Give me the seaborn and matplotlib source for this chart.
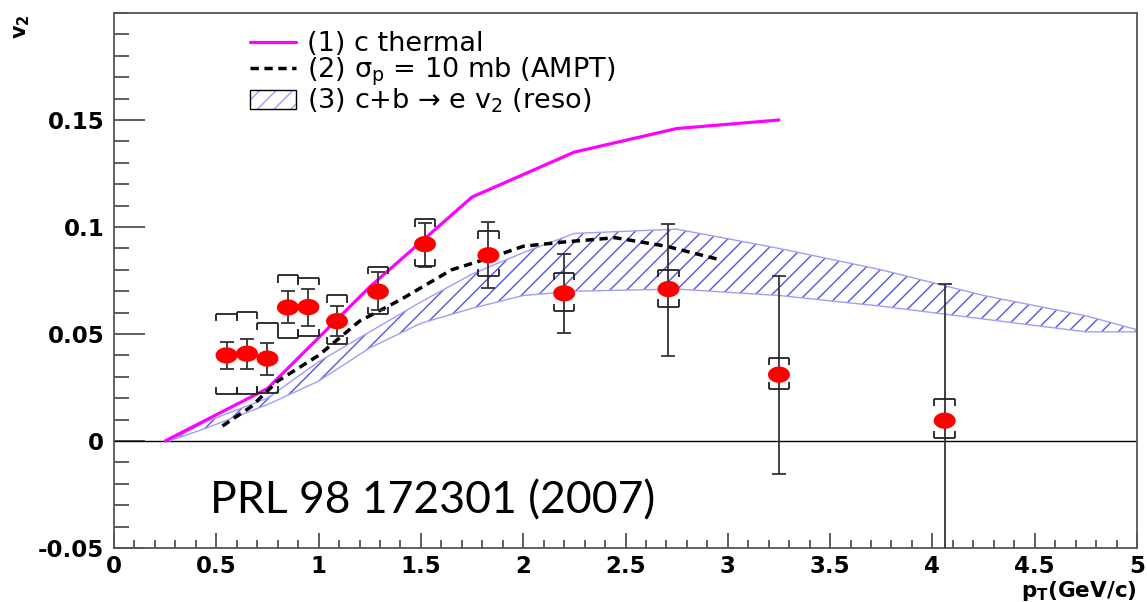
import numpy as np
import pandas as pd
import matplotlib
matplotlib.use("Agg")
import matplotlib.pyplot as plt
import seaborn as sns
from matplotlib.path import Path
from matplotlib.lines import Line2D
from matplotlib.patches import Patch
from matplotlib.legend_handler import HandlerTuple
from matplotlib.ticker import MultipleLocator, FixedLocator

# ---------------- data ----------------
pt = [0.55, 0.65, 0.75, 0.85, 0.95, 1.09, 1.29, 1.52, 1.83, 2.20, 2.71, 3.25, 4.06]
v2 = [0.040, 0.0408, 0.0385, 0.0624, 0.0626, 0.056, 0.0698, 0.092, 0.0868, 0.069, 0.071, 0.031, 0.0095]
stat_hi = [0.0464, 0.0478, 0.0459, 0.0700, 0.0712, 0.063, 0.0792, 0.1020, 0.1022, 0.0873, 0.1014, 0.0770, 0.0735]
stat_lo = [0.0336, 0.0335, 0.0310, 0.0553, 0.0537, 0.049, 0.0612, 0.0815, 0.0717, 0.0506, 0.0397, -0.0155, -0.0545]
sys_hi = [0.0593, 0.0603, 0.0553, 0.0774, 0.0763, 0.068, 0.0814, 0.1036, 0.0979, 0.0787, 0.0800, 0.0388, 0.0196]
sys_lo = [0.0220, 0.0220, 0.0224, 0.0483, 0.0490, 0.0452, 0.0594, 0.0816, 0.0770, 0.0607, 0.0628, 0.0243, 0.0014]

thermal_x = [0.25, 0.75, 1.25, 1.75, 2.25, 2.75, 3.25]
thermal_y = [0.0, 0.0245, 0.072, 0.114, 0.135, 0.146, 0.150]

ampt_x = [0.53, 0.67, 0.80, 1.00, 1.20, 1.40, 1.65, 1.85, 2.00, 2.20, 2.45, 2.70, 2.97]
ampt_y = [0.007, 0.016, 0.028, 0.040, 0.056, 0.066, 0.080, 0.086, 0.091, 0.093, 0.095, 0.091, 0.0845]

band_x = [0.27, 0.45, 0.75, 1.00, 1.25, 1.50, 1.75, 2.00, 2.25, 2.75, 3.25, 3.75, 4.25, 4.75, 5.00]
band_hi = [0.000, 0.009, 0.020, 0.037, 0.051, 0.065, 0.078, 0.088, 0.097, 0.099, 0.090, 0.080, 0.068, 0.0585, 0.052]
band_lo = [0.000, 0.006, 0.017, 0.028, 0.0435, 0.055, 0.062, 0.068, 0.070, 0.071, 0.068, 0.063, 0.057, 0.051, 0.051]

legend_labels = ["(1) c thermal",
                 "(2) σ$_\\mathregular{p}$ = 10 mb (AMPT)",
                 "(3) c+b → e v$_\\mathregular{2}$ (reso)"]
xticks = [0, 0.5, 1, 1.5, 2, 2.5, 3, 3.5, 4, 4.5, 5]
xtick_labels = ["0", "0.5", "1", "1.5", "2", "2.5", "3", "3.5", "4", "4.5", "5"]
yticks = [-0.05, 0, 0.05, 0.1, 0.15]
ytick_labels = ["-0.05", "0", "0.05", "0.1", "0.15"]

# ---------------- style ----------------
sns.set_theme(style="ticks")
plt.rcParams["font.family"] = ["DejaVu Sans"]
plt.rcParams["mathtext.default"] = "regular"
plt.rcParams["hatch.linewidth"] = 1.0
plt.rcParams["text.color"] = "black"

fig = plt.figure(figsize=(11.47, 6.02), dpi=100)
fig.patch.set_facecolor("white")
ax = fig.add_axes([114 / 1147, 54 / 602, 1023 / 1147, 535 / 602])
ax.set_facecolor("white")

# band (3)
hatch_col = (0.33, 0.33, 0.90)
edge_col = (0.62, 0.62, 0.97)
ax.fill_between(band_x, band_lo, band_hi, facecolor="none", edgecolor=hatch_col,
                hatch="//", linewidth=0, zorder=2)
sns.lineplot(x=band_x, y=band_hi, ax=ax, color=edge_col, lw=1.0, zorder=2, sort=False)
sns.lineplot(x=band_x, y=band_lo, ax=ax, color=edge_col, lw=1.0, zorder=2, sort=False)

# zero line
ax.axhline(0, color="black", lw=1.0, zorder=1)

# curves
sns.lineplot(x=thermal_x, y=thermal_y, ax=ax, color="#ff00ff", lw=2.3, zorder=3, sort=False)
sns.lineplot(x=ampt_x, y=ampt_y, ax=ax, color="black", lw=2.5, zorder=3, sort=False,
             dashes=False, linestyle=(0, (2.4, 1.6)))

# error bars (statistical)
ptv = np.array(pt)
yv = np.array(v2)
ax.errorbar(ptv, yv, yerr=[yv - np.array(stat_lo), np.array(stat_hi) - yv], fmt="none",
            ecolor="#333333", elinewidth=1.3, capsize=5, capthick=1.3, zorder=4)

# systematic brackets
bw = 0.05
bh = 0.0034
ax.hlines(sys_hi, ptv - bw, ptv + bw, color="#222222", lw=1.3, zorder=4)
ax.hlines(sys_lo, ptv - bw, ptv + bw, color="#222222", lw=1.3, zorder=4)
for sgn_x in (-1, 1):
    ax.vlines(ptv + sgn_x * bw, np.array(sys_hi) - bh, sys_hi, color="#222222", lw=1.3, zorder=4)
    ax.vlines(ptv + sgn_x * bw, sys_lo, np.array(sys_lo) + bh, color="#222222", lw=1.3, zorder=4)

# data points (ellipse markers, as in the stretched reference)
t = np.linspace(0, 2 * np.pi, 40)
ell = Path(np.column_stack([1.35 * np.cos(t), np.sin(t)]), closed=True)
df = pd.DataFrame({"pt": pt, "v2": v2})
sns.scatterplot(data=df, x="pt", y="v2", ax=ax, marker=ell, s=250, color="#ff0000",
                edgecolor="none", linewidth=0, zorder=5)

# axes setup
ax.set_xlim(0, 5.0)
ax.set_ylim(-0.05, 0.2)
ax.xaxis.set_major_locator(FixedLocator(xticks))
ax.yaxis.set_major_locator(FixedLocator(yticks))
ax.set_xticklabels(xtick_labels)
ax.set_yticklabels(ytick_labels)
ax.xaxis.set_minor_locator(MultipleLocator(0.1))
ax.yaxis.set_minor_locator(MultipleLocator(0.01))
ax.tick_params(axis="both", which="both", direction="in", colors="#333333",
               top=False, right=False, width=1.1, labelcolor="black")
ax.tick_params(axis="y", which="major", length=22, pad=7, labelsize=16.5)
ax.tick_params(axis="y", which="minor", length=11)
ax.tick_params(axis="x", which="major", length=11, pad=5, labelsize=16.5)
ax.tick_params(axis="x", which="minor", length=6)
for lab in ax.get_xticklabels() + ax.get_yticklabels():
    lab.set_fontweight("bold")
for side in ("left", "bottom", "right", "top"):
    ax.spines[side].set_color("#555555")
    ax.spines[side].set_linewidth(1.3)
ax.set_xlabel("")
ax.set_ylabel("")

# axis titles
fig.text(22 / 1147, 1 - 14 / 602, "v$_\\mathregular{2}$", rotation=90, ha="center", va="top",
         fontsize=15, fontweight="bold", color="black")
fig.text(1137 / 1147, 1 - 591 / 602, "p$_\\mathregular{T}$(GeV/c)", ha="right", va="center",
         fontsize=15.5, fontweight="bold", color="black")

# reference text
ax.text(0.47, -0.028, "PRL 98 172301 (2007)", ha="left", va="center",
        fontsize=32, family=["Lato", "DejaVu Sans"], color="black")

# legend
h1 = Line2D([], [], color="#ff00ff", lw=2.3)
h2 = Line2D([], [], color="black", lw=2.5, linestyle=(0, (2.4, 1.6)))
h3 = (Patch(facecolor="white", edgecolor=edge_col, hatch="//", lw=0),
      Patch(facecolor="none", edgecolor="black", lw=1.0))
leg = ax.legend([h1, h2, h3], legend_labels, loc="upper left",
                bbox_to_anchor=(136 / 1023, 1 - 18 / 535), frameon=False,
                fontsize=19.5, handlelength=1.7, handletextpad=0.4, labelspacing=-0.05,
                borderaxespad=0, borderpad=0, labelcolor="black",
                handler_map={tuple: HandlerTuple(ndivide=1, pad=0)})
leg.set_zorder(6)

fig.savefig("out.png", dpi=100, facecolor="white")
